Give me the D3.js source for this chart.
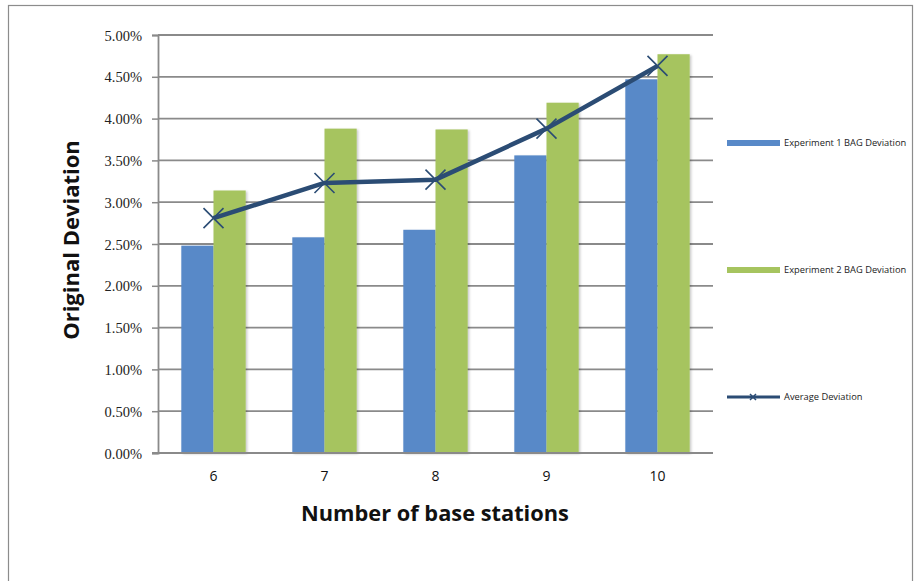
<!DOCTYPE html>
<html>
<head>
<meta charset="utf-8">
<script src="https://cdn.jsdelivr.net/npm/d3@7/dist/d3.min.js"></script>
<style>
  html, body { margin: 0; padding: 0; background: #fff; }
  svg { display: block; }
</style>
</head>
<body>
<svg id="chart" width="915" height="581"></svg>
<script>
// Deviation per number of base stations (percent)
const stations = ["6", "7", "8", "9", "10"];
const exp1 = [2.48, 2.58, 2.67, 3.56, 4.47];
const exp2 = [3.14, 3.88, 3.87, 4.19, 4.77];
const average = [2.81, 3.23, 3.27, 3.88, 4.63];
const yTicks = [0, 0.5, 1, 1.5, 2, 2.5, 3, 3.5, 4, 4.5, 5];
const seriesNames = ["Experiment 1 BAG Deviation", "Experiment 2 BAG Deviation", "Average Deviation"];

const colors = { exp1: "#5889c8", exp2: "#a6c45f", avg: "#2b4c74", grid: "#8a8a8a" };

const svg = d3.select("#chart");
const m = { left: 158, right: 713, top: 35, bottom: 453 };

// outer frame
svg.append("rect").attr("x", 8.5).attr("y", 5.5).attr("width", 904).attr("height", 590)
  .attr("fill", "#fff").attr("stroke", "#8c8c8c").attr("stroke-width", 1.2);

const defs = svg.append("defs");
const f = defs.append("filter").attr("id", "shadow").attr("x", "-20%").attr("y", "-5%").attr("width", "150%").attr("height", "115%");
f.append("feDropShadow").attr("dx", 1.5).attr("dy", 1).attr("stdDeviation", 1.2).attr("flood-color", "#000").attr("flood-opacity", 0.22);

const x = d3.scaleBand().domain(stations).range([m.left, m.right]).paddingInner(0.42).paddingOuter(0.21);
const xs = d3.scaleBand().domain(["e1", "e2"]).range([0, x.bandwidth()]);
const y = d3.scaleLinear().domain([0, 5]).range([m.bottom, m.top]);

// horizontal gridlines
svg.append("g").selectAll("line").data(yTicks.filter(d => d > 0)).join("line")
  .attr("x1", m.left).attr("x2", m.right)
  .attr("y1", d => y(d)).attr("y2", d => y(d))
  .attr("stroke", colors.grid).attr("stroke-width", 1.8);

// y axis
const yAxis = d3.axisLeft(y).tickValues(yTicks).tickSize(6).tickFormat(d => d.toFixed(2) + "%");
const gy = svg.append("g").attr("transform", `translate(${m.left},0)`).call(yAxis);
gy.select(".domain").attr("stroke", colors.grid).attr("stroke-width", 1.8);
gy.selectAll(".tick line").attr("stroke", colors.grid).attr("stroke-width", 1.5);
gy.selectAll(".tick text").attr("font-family", "'Liberation Serif', 'Times New Roman', serif")
  .attr("font-size", 14.5).attr("fill", "#222").attr("x", -16).attr("dy", "0.35em");

// bars
const groups = svg.append("g").selectAll("g").data(stations).join("g")
  .attr("transform", d => `translate(${x(d)},0)`);
groups.append("rect")
  .attr("x", xs("e1")).attr("width", xs.bandwidth())
  .attr("y", (d, i) => y(exp1[i])).attr("height", (d, i) => y(0) - y(exp1[i]))
  .attr("fill", colors.exp1).attr("filter", "url(#shadow)");
groups.append("rect")
  .attr("x", xs("e2")).attr("width", xs.bandwidth())
  .attr("y", (d, i) => y(exp2[i])).attr("height", (d, i) => y(0) - y(exp2[i]))
  .attr("fill", colors.exp2).attr("filter", "url(#shadow)");

// x axis
const xAxis = d3.axisBottom(x).tickSize(0).tickPadding(18);
const gx = svg.append("g").attr("transform", `translate(0,${m.bottom})`).call(xAxis);
gx.select(".domain").attr("stroke", colors.grid).attr("stroke-width", 1.8).attr("d", `M${m.left - 6},0H${m.right}`);
gx.selectAll(".tick text").attr("font-family", "'Open Sans', 'Liberation Sans', sans-serif")
  .attr("font-size", 14).attr("fill", "#111");

// average line
const cx = d => x(d) + x.bandwidth() / 2;
const line = d3.line().x((d, i) => cx(stations[i])).y(d => y(d));
svg.append("path").datum(average).attr("d", line)
  .attr("fill", "none").attr("stroke", colors.avg).attr("stroke-width", 4.5).attr("stroke-linejoin", "round");
const s = 10;
svg.append("g").selectAll("path").data(average).join("path")
  .attr("d", (d, i) => {
    const px = cx(stations[i]), py = y(d);
    return `M${px - s},${py - s}L${px + s},${py + s}M${px - s},${py + s}L${px + s},${py - s}`;
  })
  .attr("stroke", colors.avg).attr("stroke-width", 1.6).attr("fill", "none");

// axis titles
svg.append("text").attr("x", 435).attr("y", 521).attr("text-anchor", "middle")
  .attr("font-family", "'Open Sans', 'Liberation Sans', sans-serif").attr("font-weight", "bold")
  .attr("font-size", 21.8).attr("fill", "#111").text("Number of base stations");
svg.append("text").attr("transform", "translate(79,240) rotate(-90)").attr("text-anchor", "middle")
  .attr("font-family", "'Open Sans', 'Liberation Sans', sans-serif").attr("font-weight", "bold")
  .attr("font-size", 22).attr("fill", "#111").text("Original Deviation");

// legend
const legY = [143, 270, 397];
const leg = svg.append("g").attr("font-family", "'Open Sans', 'Liberation Sans', sans-serif").attr("font-size", 9.3).attr("fill", "#222");
leg.append("rect").attr("x", 727).attr("y", legY[0] - 3).attr("width", 53).attr("height", 6).attr("fill", colors.exp1);
leg.append("rect").attr("x", 727).attr("y", legY[1] - 3).attr("width", 53).attr("height", 6).attr("fill", colors.exp2);
leg.append("line").attr("x1", 727).attr("x2", 780).attr("y1", legY[2]).attr("y2", legY[2])
  .attr("stroke", colors.avg).attr("stroke-width", 3);
leg.append("path").attr("d", `M${750},${legY[2] - 3}L${756},${legY[2] + 3}M${750},${legY[2] + 3}L${756},${legY[2] - 3}`)
  .attr("stroke", colors.avg).attr("stroke-width", 1.5);
seriesNames.forEach((n, i) => {
  leg.append("text").attr("x", 784).attr("y", legY[i]).attr("dy", "0.35em").text(n);
});
</script>
</body>
</html>
